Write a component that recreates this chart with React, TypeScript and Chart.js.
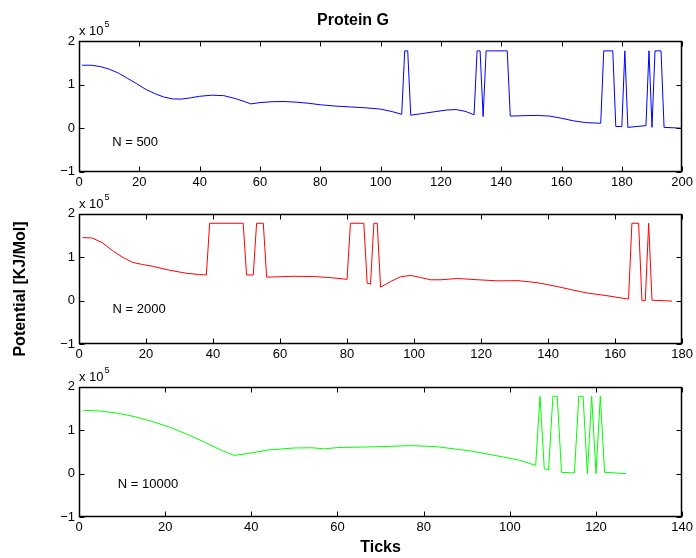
import React, { useEffect, useRef } from 'react';
import { Chart, registerables } from 'chart.js';

Chart.register(...registerables);

const FONT = '"Liberation Sans", Arial, Helvetica, sans-serif';

// Values are in units of 10^5 KJ/Mol
// Panel 1: N = 500
const ticks500 = [1, 4, 7, 10, 13, 16, 19, 22, 25, 28, 31, 34, 37, 40, 44, 48, 52, 55, 57, 60, 64, 68, 72, 76, 80, 85, 90, 95, 100, 104, 107, 108, 109, 110, 114, 118, 122, 125, 128, 131, 132, 133, 134, 135, 142, 143, 148, 152, 156, 160, 164, 168, 173, 174, 177, 178, 180, 181, 182, 185, 188, 189, 190, 191, 193, 194, 200];
const potential500 = [1.45, 1.45, 1.42, 1.36, 1.27, 1.15, 1.03, 0.9, 0.8, 0.72, 0.675, 0.67, 0.7, 0.735, 0.76, 0.75, 0.68, 0.61, 0.56, 0.59, 0.61, 0.615, 0.6, 0.575, 0.54, 0.51, 0.49, 0.47, 0.44, 0.38, 0.32, 1.78, 1.78, 0.3, 0.34, 0.38, 0.42, 0.43, 0.39, 0.31, 1.78, 1.78, 0.27, 1.78, 1.78, 0.28, 0.29, 0.295, 0.28, 0.23, 0.17, 0.13, 0.115, 1.78, 1.78, 0.04, 0.04, 1.78, 0.02, 0.04, 0.06, 1.78, 0.02, 1.78, 1.78, 0.02, 0.0];

// Panel 2: N = 2000
const ticks2000 = [1, 4, 7, 10, 13, 16, 19, 22, 27, 32, 36, 38, 39, 49, 50, 52, 53, 55, 56, 64, 70, 75, 80, 81, 85, 86, 87, 88, 89, 90, 93, 96, 99, 102, 105, 108, 113, 119, 125, 131, 137, 143, 147, 152, 157, 164, 165, 167, 168, 169, 170, 171, 177];
const potential2000 = [1.45, 1.44, 1.33, 1.15, 1.0, 0.88, 0.83, 0.79, 0.7, 0.63, 0.6, 0.59, 1.78, 1.78, 0.59, 0.59, 1.78, 1.78, 0.54, 0.56, 0.555, 0.53, 0.49, 1.78, 1.78, 0.4, 0.38, 1.78, 1.78, 0.31, 0.44, 0.55, 0.58, 0.53, 0.48, 0.48, 0.51, 0.48, 0.455, 0.46, 0.41, 0.32, 0.25, 0.17, 0.12, 0.035, 1.78, 1.78, 0.0, 0.0, 1.78, 0.01, -0.01];

// Panel 3: N = 10000
const ticks10000 = [1, 5, 9, 13, 17, 21, 25, 29, 33, 36, 39, 44, 50, 54, 57, 60, 65, 70, 77, 83, 91, 97, 102, 106, 107, 108, 109, 110, 111, 112, 115, 116, 117, 118, 119, 120, 121, 122, 127];
const potential10000 = [1.455, 1.44, 1.39, 1.31, 1.2, 1.07, 0.91, 0.73, 0.54, 0.42, 0.46, 0.545, 0.59, 0.595, 0.57, 0.6, 0.61, 0.62, 0.645, 0.62, 0.52, 0.41, 0.315, 0.19, 1.78, 0.11, 0.085, 1.78, 1.78, 0.03, 0.015, 1.78, 1.78, 0.0, 1.78, 0.0, 1.78, 0.03, 0.0];

const seriesX = [ticks500, ticks2000, ticks10000];
const seriesY = [potential500, potential2000, potential10000];
const xMaxes = [200, 180, 140];
const xStep = 20;
const yMin = -1;
const yMax = 2;
const yStep = 1;
const panelLabels = ['N = 500', 'N = 2000', 'N = 10000'];
const panelLabelX = [11, 10, 9];
const panelLabelY = [-0.33, -0.2, -0.25];
const lineColors = ['#0000ff', '#ff0000', '#00ff00'];
const titleText = 'Protein G';
const xTitle = 'Ticks';
const yTitle = 'Potential [KJ/Mol]';
const exponentBase = 'x 10';
const exponentPower = '5';

// Layout
const W = 696;
const H = 558;
const PLOT_LEFT = 79;
const PLOT_RIGHT = 682.5;
const PANEL_TOPS = [41.3, 213.7, 386.7];
const PANEL_H = 130.4;
const XAXIS_H = 24;

function fmtTick(v: number): string {
  return v < 0 ? '\u2212' + String(Math.abs(v)) : String(v);
}

function makeOverlay(idx: number) {
  return {
    id: 'matlabOverlay' + idx,
    afterDraw(chart: any) {
      const { ctx, chartArea: a } = chart;
      const xs = chart.scales.x;
      const ys = chart.scales.y;
      ctx.save();
      ctx.strokeStyle = '#000';
      const L = Math.round(a.left) + 0.5;
      const R = Math.round(a.right) - 0.5;
      const T = Math.round(a.top) + 0.5;
      const B = Math.round(a.bottom) - 0.5;
      ctx.lineWidth = 1.5;
      ctx.beginPath();
      ctx.rect(L, T, R - L, B - T);
      ctx.stroke();
      ctx.lineWidth = 1;
      ctx.beginPath();
      const tl = 5;
      xs.ticks.forEach((t: any) => {
        const px = Math.round(xs.getPixelForValue(t.value)) + 0.5;
        ctx.moveTo(px, B);
        ctx.lineTo(px, B - tl);
        ctx.moveTo(px, T);
        ctx.lineTo(px, T + tl);
      });
      ys.ticks.forEach((t: any) => {
        const py = Math.round(ys.getPixelForValue(t.value)) + 0.5;
        ctx.moveTo(L, py);
        ctx.lineTo(L + tl, py);
        ctx.moveTo(R, py);
        ctx.lineTo(R - tl, py);
      });
      ctx.stroke();

      ctx.fillStyle = '#000';
      ctx.textAlign = 'left';
      ctx.textBaseline = 'alphabetic';
      ctx.font = `13px ${FONT}`;
      ctx.fillText(exponentBase, a.left, a.top - 6);
      const w = ctx.measureText(exponentBase).width;
      ctx.font = `9px ${FONT}`;
      ctx.fillText(exponentPower, a.left + w + 1, a.top - 14);

      ctx.font = `13px ${FONT}`;
      ctx.textBaseline = 'middle';
      ctx.fillText(panelLabels[idx], xs.getPixelForValue(panelLabelX[idx]), ys.getPixelForValue(panelLabelY[idx]));

      ctx.font = `bold 16px ${FONT}`;
      ctx.textBaseline = 'alphabetic';
      if (idx === 0) {
        ctx.textAlign = 'center';
        ctx.fillText(titleText, 353, 25);
      } else if (idx === 1) {
        ctx.save();
        ctx.translate(24.5, 289);
        ctx.rotate(-Math.PI / 2);
        ctx.textAlign = 'center';
        ctx.fillText(yTitle, 0, 0);
        ctx.restore();
      } else {
        ctx.textAlign = 'center';
        ctx.fillText(xTitle, (a.left + a.right) / 2, 551.5);
      }
      ctx.restore();
    },
  };
}

function Panel({ idx }: { idx: number }) {
  const ref = useRef<HTMLCanvasElement>(null);
  useEffect(() => {
    const top = PANEL_TOPS[idx];
    const bottom = top + PANEL_H;
    const points = seriesX[idx].map((x, i) => ({ x, y: seriesY[idx][i] }));
    const chart = new Chart(ref.current as HTMLCanvasElement, {
      type: 'line',
      data: {
        datasets: [
          {
            data: points,
            borderColor: lineColors[idx],
            borderWidth: 1,
            pointRadius: 0,
            tension: 0,
            fill: false,
          },
        ],
      },
      options: {
        responsive: false,
        animation: false,
        devicePixelRatio: 1,
        layout: {
          padding: { top, left: 0, right: W - PLOT_RIGHT, bottom: H - bottom - XAXIS_H },
        },
        plugins: {
          legend: { display: false },
          tooltip: { enabled: false },
          title: { display: false },
        },
        scales: {
          x: {
            type: 'linear',
            min: 0,
            max: xMaxes[idx],
            afterFit: (s: any) => {
              s.height = XAXIS_H;
            },
            grid: { display: false, drawTicks: false },
            border: { display: false },
            ticks: {
              stepSize: xStep,
              autoSkip: false,
              maxRotation: 0,
              padding: 3,
              color: '#000',
              font: { family: FONT, size: 13 },
              callback: (v: any) => fmtTick(Number(v)),
            },
          },
          y: {
            type: 'linear',
            min: yMin,
            max: yMax,
            afterFit: (s: any) => {
              s.width = PLOT_LEFT;
            },
            grid: { display: false, drawTicks: false },
            border: { display: false },
            ticks: {
              stepSize: yStep,
              padding: 4,
              color: '#000',
              font: { family: FONT, size: 13 },
              callback: (v: any) => fmtTick(Number(v)),
            },
          },
        },
      } as any,
      plugins: [makeOverlay(idx)],
    });
    return () => chart.destroy();
  }, [idx]);
  return (
    <canvas
      ref={ref}
      width={W}
      height={H}
      style={{ position: 'absolute', left: 0, top: 0, width: W, height: H }}
    />
  );
}

export default function App() {
  return (
    <div style={{ position: 'fixed', left: 0, top: 0, width: W, height: H, background: '#fff' }}>
      <Panel idx={0} />
      <Panel idx={1} />
      <Panel idx={2} />
    </div>
  );
}
